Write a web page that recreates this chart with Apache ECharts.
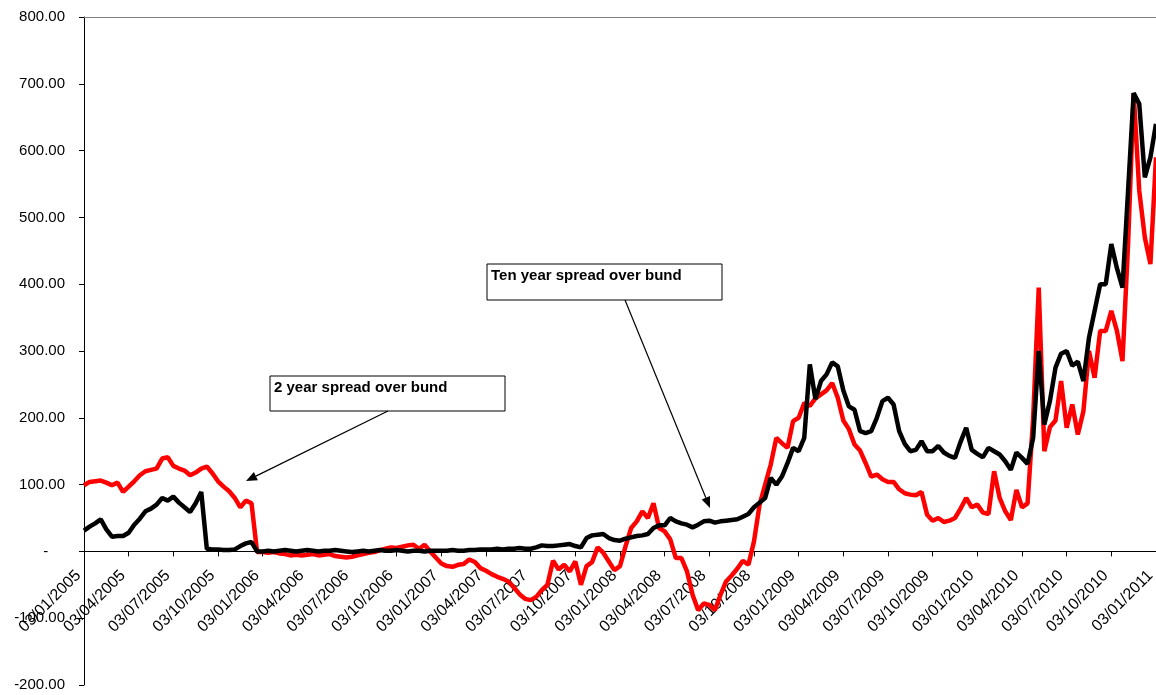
<!DOCTYPE html>
<html>
<head>
<meta charset="utf-8">
<script src="https://cdn.jsdelivr.net/npm/echarts@6/dist/echarts.min.js"></script>
<style>
html,body{margin:0;padding:0;background:#fff;}
#chart{width:1156px;height:695px;}
</style>
</head>
<body>
<div id="chart"></div>
<script>
// Quarterly tick labels (dd/mm/yyyy)
const tickLabels = ['03/01/2005','03/04/2005','03/07/2005','03/10/2005',
  '03/01/2006','03/04/2006','03/07/2006','03/10/2006',
  '03/01/2007','03/04/2007','03/07/2007','03/10/2007',
  '03/01/2008','03/04/2008','03/07/2008','03/10/2008',
  '03/01/2009','03/04/2009','03/07/2009','03/10/2009',
  '03/01/2010','03/04/2010','03/07/2010','03/10/2010',
  '03/01/2011'];
const STEPS = 8; // samples per quarter

// 2 year spread over bund (bp)
const spread2y = [
  99,104,105,106,103,99,103,89,
  97,105,114,120,122,124,139,141,
  128,124,121,114,118,124,127,117,
  105,97,90,80,66,76,72,-1,
  -1,-2,-1,-3,-4,-6,-5,-6,
  -5,-4,-6,-5,-4,-7,-8,-9,
  -8,-6,-4,-2,-1,2,4,6,
  5,7,9,10,4,10,0,-9,
  -18,-22,-23,-20,-19,-12,-16,-25,
  -29,-34,-38,-41,-45,-54,-64,-71,
  -73,-68,-58,-50,-14,-27,-20,-30,
  -15,-50,-22,-16,6,-2,-15,-28,
  -22,8,35,45,60,50,72,35,
  30,18,-10,-10,-30,-65,-88,-78,
  -80,-88,-65,-45,-36,-26,-14,-20,
  15,70,100,130,170,162,155,195,
  200,222,218,229,235,241,252,230,
  196,183,160,151,132,112,115,108,
  104,104,93,87,85,84,89,55,
  46,50,44,46,50,64,80,66,
  70,58,56,120,80,60,47,92,
  66,72,200,395,150,186,196,255,
  185,220,175,210,300,260,330,330,
  360,330,285,460,686,540,470,430,
  590
];

// Ten year spread over bund (bp)
const spread10y = [
  31,37,42,48,33,22,23,23,
  28,40,49,60,64,70,80,76,
  82,73,66,59,72,89,4,3,
  3,2,2,3,8,12,14,0,
  0,1,0,1,2,1,0,1,
  2,1,0,1,1,2,1,0,
  -1,0,1,0,1,2,1,1,
  2,1,0,1,1,0,1,1,
  1,1,2,1,1,2,2,3,
  3,3,4,3,4,4,5,4,
  4,6,9,8,8,9,10,11,
  8,6,20,24,25,26,20,17,
  16,19,21,23,24,26,35,39,
  39,50,45,42,40,36,40,45,
  46,43,45,46,47,48,52,56,
  66,73,80,110,100,112,132,155,
  150,170,280,228,255,265,283,277,
  241,217,212,180,177,180,200,225,
  230,220,180,161,150,152,165,150,
  150,158,148,143,140,164,185,152,
  146,141,155,150,145,135,122,148,
  140,131,170,300,190,225,275,296,
  300,278,284,255,320,360,400,400,
  460,424,395,540,686,670,560,590,
  640
];

const Y_MIN = -200, Y_MAX = 800;
const GRID = { left: 84, right: 0, top: 17, bottom: 10 };
const CHART_H = 695;

// category list built from the quarterly tick labels
const categories = [];
for (let q = 0; q < tickLabels.length; q++) {
  if (q === tickLabels.length - 1) { categories.push(tickLabels[q]); break; }
  for (let j = 0; j < STEPS; j++) {
    categories.push(j === 0 ? tickLabels[q] : tickLabels[q] + ' #' + j);
  }
}

// the x axis sits on the zero line: move it up from the grid bottom
const gridH = CHART_H - GRID.top - GRID.bottom;
const zeroOffset = -gridH * (0 - Y_MIN) / (Y_MAX - Y_MIN);

const FONT = '"Liberation Sans", Arial, sans-serif';

function arrow(x1, y1, x2, y2) {
  const ang = Math.atan2(y2 - y1, x2 - x1);
  const L = 11, W = 4.5;
  const bx = x2 - L * Math.cos(ang), by = y2 - L * Math.sin(ang);
  const px = -Math.sin(ang) * W, py = Math.cos(ang) * W;
  return [
    { type: 'line', z: 100, shape: { x1: x1, y1: y1, x2: bx, y2: by }, style: { stroke: '#000', lineWidth: 1.2 } },
    { type: 'polygon', z: 100, shape: { points: [[x2, y2], [bx + px, by + py], [bx - px, by - py]] }, style: { fill: '#000' } }
  ];
}

function box(x, y, w, h, text) {
  return [
    { type: 'rect', z: 100, shape: { x: x, y: y, width: w, height: h }, style: { fill: '#fff', stroke: '#000', lineWidth: 1 } },
    { type: 'text', z: 101, style: { x: x + 4, y: y + 4, text: text, font: 'bold 15px ' + FONT, fill: '#000', textVerticalAlign: 'top' } }
  ];
}

const chart = echarts.init(document.getElementById('chart'), null, { renderer: 'canvas' });
chart.setOption({
  animation: false,
  backgroundColor: '#fff',
  grid: Object.assign({ containLabel: false, outerBoundsMode: 'none' }, GRID),
  xAxis: {
    type: 'category',
    data: categories,
    boundaryGap: false,
    position: 'bottom',
    offset: zeroOffset,
    axisLine: { onZero: false, lineStyle: { color: '#000', width: 1 } },
    axisTick: { show: true, interval: STEPS - 1, length: 5, lineStyle: { color: '#000' } },
    axisLabel: {
      interval: STEPS - 1, rotate: 45, margin: 16, padding: [0, 8, 0, 0],
      fontSize: 16, fontFamily: FONT, color: '#000',
      formatter: function (v) { return v; }
    },
    splitLine: { show: false }
  },
  yAxis: {
    type: 'value',
    min: Y_MIN, max: Y_MAX, interval: 100,
    axisLine: { show: true, lineStyle: { color: '#000', width: 1 } },
    axisTick: { show: true, length: 5, lineStyle: { color: '#000' } },
    axisLabel: {
      margin: 19, fontSize: 15, fontFamily: FONT, color: '#000',
      formatter: function (v) { return v === 0 ? '-\u2007\u2007' : v.toFixed(2); }
    },
    splitLine: { show: false }
  },
  series: [
    {
      name: '2 year spread over bund', type: 'line', data: spread2y,
      symbol: 'none', lineStyle: { color: '#ff0000', width: 4.5 }, itemStyle: { color: '#ff0000' },
      markLine: {
        silent: true, symbol: ['none', 'none'], label: { show: false },
        lineStyle: { color: '#808080', width: 1, type: 'solid' },
        data: [{ yAxis: Y_MAX }]
      }
    },
    {
      name: 'Ten year spread over bund', type: 'line', data: spread10y,
      symbol: 'none', lineStyle: { color: '#000000', width: 4.5 }, itemStyle: { color: '#000000' }
    }
  ],
  graphic: [].concat(
    box(270, 376, 235, 35, '2 year spread over bund'),
    arrow(388, 411, 246, 481),
    box(487, 264, 235, 36, 'Ten year spread over bund'),
    arrow(625, 300, 710, 508)
  )
});
</script>
</body>
</html>
